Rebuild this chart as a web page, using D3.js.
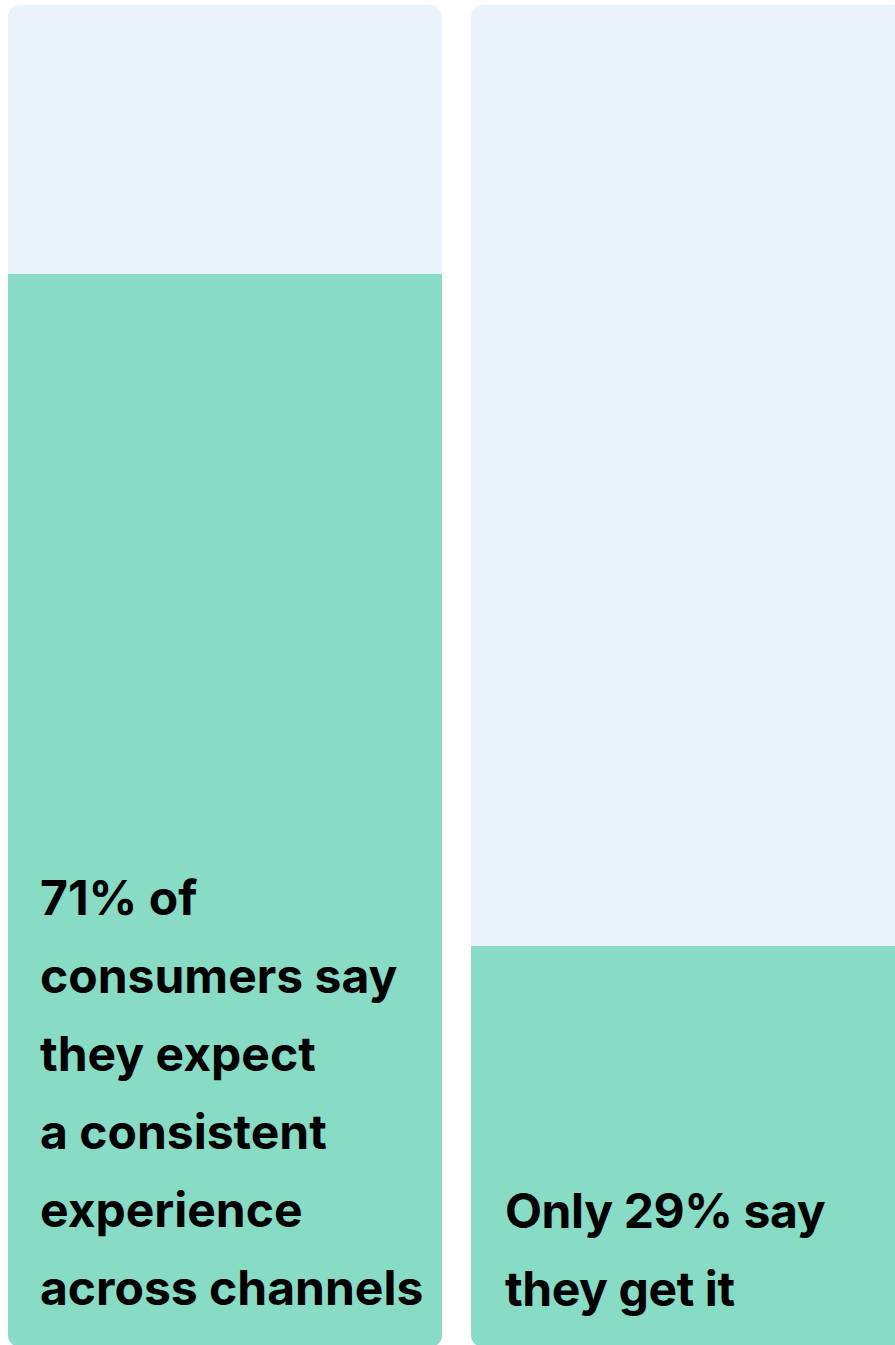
<!DOCTYPE html>
<html>
<head>
<meta charset="utf-8">
<script src="https://cdn.jsdelivr.net/npm/d3@7"></script>
<style>
  html, body { margin: 0; padding: 0; background: #ffffff; overflow: hidden; }
</style>
</head>
<body>
<div id="chart"></div>
<script>
// data
let categories = ["expect", "get"];
let percents = [71, 29];
let labelLines = [
    ["71% of", "consumers say", "they expect", "a consistent", "experience", "across channels"],
    ["Only 29% say", "they get it"]
];

let width = 895;
let height = 1345;

let panel = {
    top: 5,
    bottom: 1347,
    width: 434,
    gap: 29,
    left: 8,
    radius: 12
};  //px

let textPad = [32, 34]; //px
let lineHeight = 78; //px
let lastBaseline = 1305; //px

let svg = d3.select("#chart")
    .append("svg")
    .attr("width", width)
    .attr("height", height);

let xScale = d3.scaleBand()
    .domain(categories)
    .range([panel.left, panel.left + categories.length * panel.width + (categories.length - 1) * panel.gap])
    .paddingInner(panel.gap / (panel.width + panel.gap))
    .paddingOuter(0);

// percentage scale, baseline sits below the visible panel
let yScale = d3.scaleLinear()
    .domain([0, 100])
    .range([1410, -190]);

let defs = svg.append("defs");

categories.forEach((c, i) => {
    defs.append("clipPath")
        .attr("id", "clip-" + c)
        .append("rect")
        .attr("x", xScale(c))
        .attr("y", panel.top)
        .attr("width", xScale.bandwidth())
        .attr("height", panel.bottom - panel.top)
        .attr("rx", panel.radius)
        .attr("ry", panel.radius);

    let g = svg.append("g")
        .attr("clip-path", "url(#clip-" + c + ")");

    // background panel
    g.append("rect")
        .attr("x", xScale(c))
        .attr("y", panel.top)
        .attr("width", xScale.bandwidth())
        .attr("height", panel.bottom - panel.top)
        .attr("fill", "#eaf3fb");

    // value bar
    g.append("rect")
        .attr("x", xScale(c))
        .attr("y", yScale(percents[i]))
        .attr("width", xScale.bandwidth())
        .attr("height", yScale(0) - yScale(percents[i]))
        .attr("fill", "#88dbc4");

    let lines = labelLines[i];
    g.append("text")
        .attr("font-family", "Inter, 'Noto Sans', sans-serif")
        .attr("font-weight", 700)
        .attr("font-size", 48)
        .attr("letter-spacing", i == 1 ? -0.4 : 0)
        .attr("fill", "#000")
        .selectAll("tspan")
        .data(lines)
        .join("tspan")
        .attr("x", xScale(c) + textPad[i])
        .attr("y", (d, j) => lastBaseline - (lines.length - 1 - j) * lineHeight + (i == 1 ? 1 : 0))
        .text(d => d);
});
</script>
</body>
</html>
